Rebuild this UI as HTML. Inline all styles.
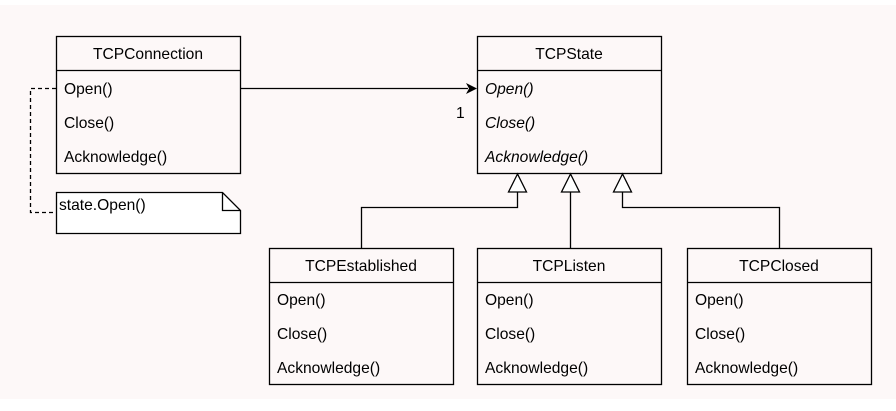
<!DOCTYPE html>
<html><head><style>
html,body{margin:0;padding:0;background:#fff;}
svg{display:block;}
text{font-family:"Liberation Sans",sans-serif;font-size:15.6px;fill:#000;}
.it{font-style:italic;}
</style></head><body>
<svg width="896" height="411" viewBox="0 0 896 411" xmlns="http://www.w3.org/2000/svg">
<rect x="0" y="5" width="896" height="394" fill="#fdf8f8"/>
<g fill="none" stroke="#000" stroke-width="1.3">
<rect x="56.5" y="36.5" width="184" height="137"/>
<line x1="56" y1="70.5" x2="240" y2="70.5"/>
<rect x="477.5" y="36.5" width="184" height="137"/>
<line x1="477" y1="70.5" x2="661" y2="70.5"/>
<rect x="269.5" y="248.5" width="184" height="136"/>
<line x1="269" y1="282.5" x2="453" y2="282.5"/>
<rect x="477.5" y="248.5" width="184" height="136"/>
<line x1="477" y1="282.5" x2="661" y2="282.5"/>
<rect x="687.5" y="248.5" width="184" height="136"/>
<line x1="687" y1="282.5" x2="871" y2="282.5"/>
<line x1="240" y1="88.5" x2="468" y2="88.5"/>
<polyline points="517.5,192 517.5,207.5 361.5,207.5 361.5,248"/>
<line x1="570.5" y1="192" x2="570.5" y2="248"/>
<polyline points="622.5,192 622.5,207.5 779.5,207.5 779.5,248"/>
<polyline points="56,88.5 30.5,88.5 30.5,212.5 56,212.5" stroke-dasharray="4,3"/>
</g>
<polygon points="477,88.5 466,83 469,88.5 466,94" fill="#000"/>
<g fill="#fff" stroke="#000" stroke-width="1.3">
<polygon points="517.5,174 508.5,192 526.5,192"/>
<polygon points="570.5,174 561.5,192 579.5,192"/>
<polygon points="622.5,174 613.5,192 631.5,192"/>
<polygon points="56.5,192.5 222.5,192.5 240.5,210.5 240.5,233.5 56.5,233.5"/>
<polyline points="222.5,192.5 222.5,210.5 240.5,210.5" fill="none"/>
</g>
<text x="148" y="59" text-anchor="middle">TCPConnection</text>
<text x="64" y="94">Open()</text>
<text x="64" y="128">Close()</text>
<text x="64" y="162">Acknowledge()</text>
<text x="59" y="210">state.Open()</text>
<text x="569" y="59" text-anchor="middle">TCPState</text>
<text class="it" x="485" y="94">Open()</text>
<text class="it" x="485" y="128">Close()</text>
<text class="it" x="485" y="162">Acknowledge()</text>
<text x="456" y="118">1</text>
<text x="361" y="271" text-anchor="middle">TCPEstablished</text>
<text x="277" y="305">Open()</text>
<text x="277" y="339">Close()</text>
<text x="277" y="373">Acknowledge()</text>
<text x="569" y="271" text-anchor="middle">TCPListen</text>
<text x="485" y="305">Open()</text>
<text x="485" y="339">Close()</text>
<text x="485" y="373">Acknowledge()</text>
<text x="779" y="271" text-anchor="middle">TCPClosed</text>
<text x="695" y="305">Open()</text>
<text x="695" y="339">Close()</text>
<text x="695" y="373">Acknowledge()</text>
</svg>
</body></html>
